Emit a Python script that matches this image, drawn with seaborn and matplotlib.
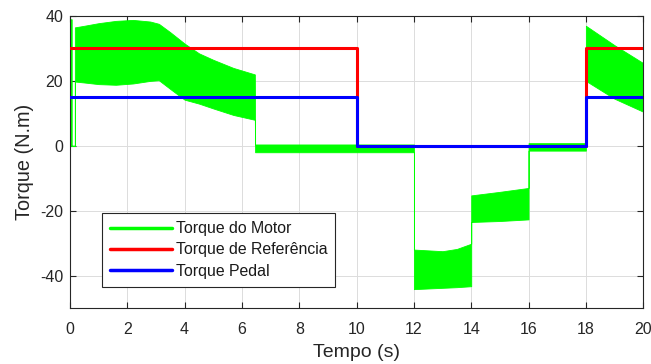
import numpy as np
import pandas as pd
import seaborn as sns
import matplotlib
matplotlib.use("Agg")
import matplotlib.pyplot as plt
from matplotlib.lines import Line2D

# ---- data ----
# Motor torque: envelope of the fast-oscillating signal (time, lower, upper)
motor_t     = [0.0, 0.06, 0.06, 0.17, 0.17, 0.5, 1.0, 1.6, 2.2, 2.8, 3.1, 3.5, 4.0, 4.5, 5.0, 5.7, 6.45,
               6.46, 12.0, 12.0, 13.0, 13.5, 14.0, 14.0, 15.0, 16.0, 16.0, 18.0, 18.0, 19.0, 20.0]
motor_lower = [0.0, 0.0, 0.0, 0.0, 19.8, 19.5, 19.0, 18.8, 19.2, 20.0, 20.2, 17.5, 14.2, 13.0, 11.5, 9.5, 8.0,
               -2.0, -2.0, -44.2, -43.8, -43.6, -43.3, -23.5, -23.2, -22.7, -1.5, -1.5, 20.0, 14.5, 10.5]
motor_upper = [39.0, 39.0, 0.0, 0.0, 36.5, 37.0, 37.8, 38.5, 38.8, 38.3, 37.6, 35.0, 31.5, 28.5, 26.5, 24.0, 22.0,
               0.4, 0.4, -32.0, -32.5, -31.8, -30.2, -15.3, -14.2, -13.0, 0.8, 0.8, 37.0, 31.0, 25.5]

ref_t   = [0, 10, 10, 18, 18, 20]
ref_v   = [30, 30, 0, 0, 30, 30]
pedal_t = [0, 10, 10, 18, 18, 20]
pedal_v = [15, 15, 0, 0, 15, 15]

labels = ["Torque do Motor", "Torque de Referência", "Torque Pedal"]
colors = ["#00ff00", "#ff0000", "#0000ff"]
x_ticks = list(range(0, 21, 2))
y_ticks = [-40, -20, 0, 20, 40]

# ---- plot ----
sns.set_theme(style="white")
plt.rcParams['font.family'] = ['Liberation Sans', 'DejaVu Sans']
plt.rcParams['axes.unicode_minus'] = False

fig = plt.figure(figsize=(6.51, 3.64), dpi=100)
ax = fig.add_axes([0.1075, 0.154, 0.8805, 0.802])

ax.fill_between(motor_t, motor_lower, motor_upper, color=colors[0], lw=0.6,
                edgecolor=colors[0], zorder=2)
sns.lineplot(x=ref_t, y=ref_v, ax=ax, color=colors[1], lw=2.2,
             estimator=None, sort=False, zorder=3)
sns.lineplot(x=pedal_t, y=pedal_v, ax=ax, color=colors[2], lw=2.2,
             estimator=None, sort=False, zorder=4)

ax.set_xlim(0, 20)
ax.set_ylim(-50, 40)
ax.set_xticks(x_ticks)
ax.set_yticks(y_ticks)
ax.grid(True, color="#dcdcdc", lw=0.7)
ax.set_axisbelow(True)
for s in ax.spines.values():
    s.set_visible(True)
    s.set_color("#262626")
    s.set_linewidth(0.8)
ax.tick_params(direction="in", length=4, width=0.8, color="#262626",
               labelcolor="#262626", labelsize=11.5,
               top=True, right=True, bottom=True, left=True)
ax.tick_params(axis="x", pad=10)
ax.tick_params(axis="y", pad=5)
ax.set_xlabel("Tempo (s)", fontsize=14, color="#262626", labelpad=5)
ax.set_ylabel("Torque (N.m)", fontsize=14.3, color="#262626", labelpad=4)

handles = [Line2D([0], [0], color=c, lw=2.5) for c in colors]
leg = ax.legend(handles, labels, loc="lower left", bbox_to_anchor=(0.056, 0.073),
                fontsize=11.4, frameon=True, fancybox=False, handlelength=3.9,
                handletextpad=0.25, labelspacing=0.4, borderpad=0.5,
                borderaxespad=0)
leg.get_frame().set_edgecolor("#262626")
leg.get_frame().set_linewidth(0.8)
leg.get_frame().set_alpha(1)
for t in leg.get_texts():
    t.set_color("#1a1a1a")

fig.savefig("out.png", dpi=100)
